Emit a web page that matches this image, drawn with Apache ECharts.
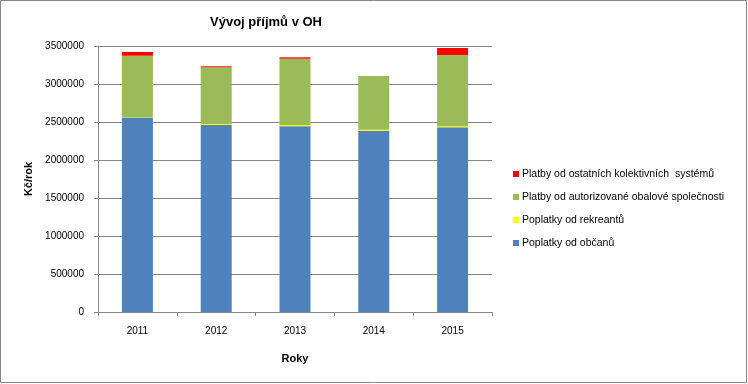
<!DOCTYPE html>
<html>
<head>
<meta charset="utf-8">
<script src="https://cdn.jsdelivr.net/npm/echarts@6/dist/echarts.min.js"></script>
<style>
html,body{margin:0;padding:0;background:#fff;}
#c{width:748px;height:384px;}
</style>
</head>
<body>
<div id="c"></div>
<script>
var categories = ['2011', '2012', '2013', '2014', '2015'];
var obcane = [2555000, 2460000, 2445000, 2382000, 2430000];
var rekreanti = [3000, 15000, 15000, 15000, 15000];
var autorizovana = [814000, 745000, 873000, 708000, 937000];
var ostatni = [50000, 13000, 18000, 0, 92000];
var seriesNames = ['Poplatky od občanů', 'Poplatky od rekreantů', 'Platby od autorizované obalové společnosti', 'Platby od ostatních kolektivních  systémů'];
var yTicks = [0, 500000, 1000000, 1500000, 2000000, 2500000, 3000000, 3500000];

var font = 'Liberation Sans, Arial, sans-serif';
var colors = ['#4F81BD', '#FFFF00', '#9BBB59', '#FF0000'];
var dataSets = [obcane, rekreanti, autorizovana, ostatni];

var chart = echarts.init(document.getElementById('c'), null, {renderer: 'canvas'});
chart.setOption({
  animation: false,
  backgroundColor: '#fff',
  textStyle: {fontFamily: font},
  title: {
    text: 'Vývoj příjmů v OH',
    left: 261, top: 11, textAlign: 'center',
    textStyle: {fontFamily: font, fontSize: 13, fontWeight: 'bold', color: '#000'}
  },
  graphic: [{
    type: 'rect', shape: {x: 0.5, y: 0.5, width: 746, height: 382},
    style: {fill: 'none', stroke: '#868686', lineWidth: 1}, silent: true, z: 100
  }],
  legend: {
    orient: 'vertical', left: 508, top: 163,
    itemWidth: 6, itemHeight: 6, itemGap: 11,
    icon: 'rect',
    data: [seriesNames[3], seriesNames[2], seriesNames[1], seriesNames[0]],
    textStyle: {fontFamily: font, fontSize: 10.5, color: '#000', padding: [0, 0, 0, -2], lineHeight: 12}
  },
  grid: {left: 98, right: 256, top: 46, bottom: 72, containLabel: false},
  xAxis: {
    type: 'category', data: categories,
    name: 'Roky', nameLocation: 'middle', nameGap: 41,
    nameTextStyle: {fontFamily: font, fontSize: 11, fontWeight: 'bold', color: '#000'},
    axisLine: {lineStyle: {color: '#868686'}},
    axisTick: {show: true, length: 4, lineStyle: {color: '#868686'}},
    axisLabel: {fontFamily: font, fontSize: 10, color: '#000', margin: 14}
  },
  yAxis: {
    type: 'value', min: 0, max: 3500000, interval: 500000,
    name: 'Kč/rok', nameLocation: 'middle', nameGap: 63, nameRotate: 90,
    nameTextStyle: {fontFamily: font, fontSize: 11, fontWeight: 'bold', color: '#000'},
    axisLine: {show: true, lineStyle: {color: '#868686'}},
    axisTick: {show: true, length: 4, lineStyle: {color: '#868686'}},
    splitLine: {show: true, lineStyle: {color: '#868686'}},
    axisLabel: {fontFamily: font, fontSize: 10, color: '#000', margin: 14,
      formatter: function (v) { return yTicks.indexOf(v) >= 0 ? String(v) : ''; }}
  },
  series: dataSets.map(function (d, i) {
    return {
      name: seriesNames[i], type: 'bar', stack: 'total', data: d,
      barWidth: 31, itemStyle: {color: colors[i]}
    };
  })
});
</script>
</body>
</html>
